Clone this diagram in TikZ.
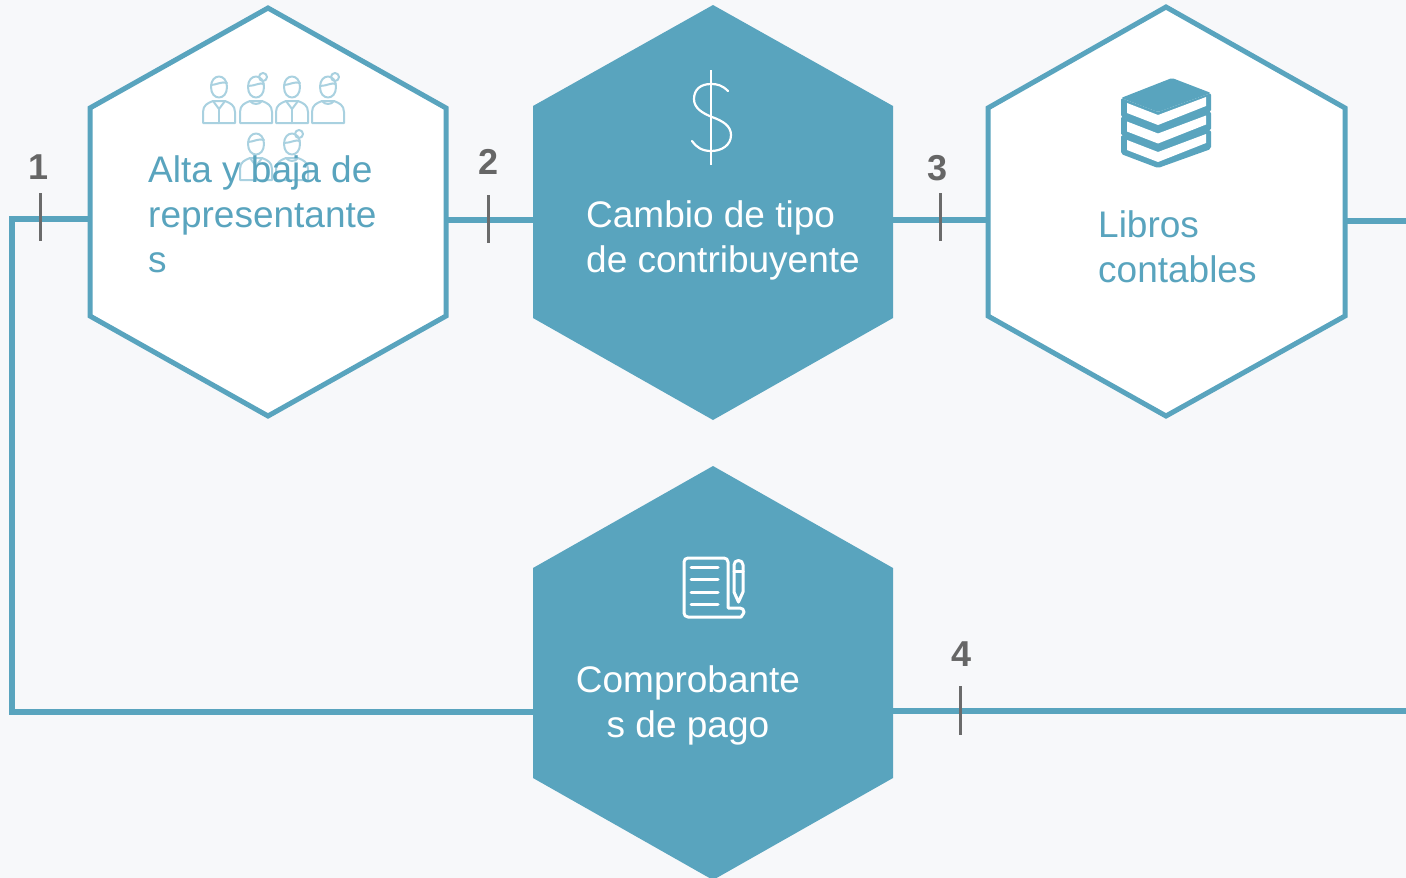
\documentclass[tikz,border=0pt]{standalone}
\usepackage{fontspec}
\setmainfont{Liberation Sans}
\definecolor{bg}{HTML}{F7F8FA}
\definecolor{hexblue}{HTML}{59A4BE}
\definecolor{tickgray}{HTML}{6B6B6B}
\definecolor{numgray}{HTML}{666666}
\definecolor{iconblue}{HTML}{A9D1E0}
\tikzset{
  hexline/.style={draw=hexblue, line width=5pt, fill=white, line join=miter},
  hexfill/.style={fill=hexblue},
  conn/.style={draw=hexblue, line width=5.5pt},
  tickmark/.style={draw=tickgray, line width=3pt},
  numlbl/.style={text=numgray, font=\fontsize{36}{40}\selectfont\bfseries, inner sep=0pt},
  lbl/.style={font=\fontsize{37}{45}\selectfont, inner sep=0pt, anchor=base west, align=left},
  person/.style={draw=iconblue, line width=2pt, line join=round, line cap=round},
  whiteline/.style={draw=white, line width=3pt, line join=round, line cap=round},
  pics/man/.style={code={
    \draw[person] (-8,11) .. controls (-8,-3) and (8,-3) .. (8,11) .. controls (8,25) and (-8,25) .. (-8,11) -- cycle;
    \draw[person] (-8,9) .. controls (-3,9) and (3,5) .. (8,7);
    \draw[person] (-16,47) -- (-16,36) .. controls (-16,29) and (-11,27) .. (-6,25) -- (6,25) .. controls (11,27) and (16,29) .. (16,36) -- (16,47) -- cycle;
    \draw[person] (-6,25) -- (0,33) -- (6,25);
    \draw[person] (0,33) -- (0,47);
  }},
  pics/woman/.style={code={
    \draw[person] (-8,11) .. controls (-8,-3) and (8,-3) .. (8,11) .. controls (8,25) and (-8,25) .. (-8,11) -- cycle;
    \draw[person] (-8,10) .. controls (-1,10) and (4,6) .. (8,8);
    \draw[person] (7,1) circle[radius=4pt];
    \draw[person] (-16,47) -- (-16,36) .. controls (-16,29) and (-11,27) .. (-6,25) -- (6,25) .. controls (11,27) and (16,29) .. (16,36) -- (16,47) -- cycle;
    \draw[person] (-6,25) .. controls (-3,29) and (3,29) .. (6,25);
  }},
}
\begin{document}
\begin{tikzpicture}[x=1pt, y=-1pt]
\fill[bg] (0,0) rectangle (1406,878);
\useasboundingbox (0,0) rectangle (1406,878);
% connection points
\coordinate (h1W) at (90,219);
\coordinate (h1E) at (446,220);
\coordinate (h2W) at (533,220);
\coordinate (h2E) at (893,220);
\coordinate (h3W) at (988,220);
\coordinate (h3E) at (1345,221);
\coordinate (endA) at (1406,221);
\coordinate (h4W) at (533,712);
\coordinate (h4E) at (893,711);
\coordinate (endB) at (1406,711);
\coordinate (loop) at (12,500);
% connectors
\draw[conn] (h1W) -| (loop) |- (h4W);
\draw[conn] (h1E) -- (h2W);
\draw[conn] (h2E) -- (h3W);
\draw[conn] (h3E) -- (endA);
\draw[conn] (h4E) -- (endB);
% hexagons
\path[hexline] (268,8) -- (446,108) -- (446,316) -- (268,416) -- (90,316) -- (90,108) -- cycle;
\path[hexfill] (713,5) -- (893,106) -- (893,318) -- (713,420) -- (533,318) -- (533,106) -- cycle;
\path[hexline] (1166,7) -- (1345,108) -- (1345,316) -- (1166,416) -- (988,316) -- (988,108) -- cycle;
\path[hexfill] (713,466) -- (893,568) -- (893,778) -- (713,880) -- (533,778) -- (533,568) -- cycle;
% people icon
\pic at (219,76) {man};
\pic at (256,76) {woman};
\pic at (292,76) {man};
\pic at (328,76) {woman};
\pic at (256,133) {man};
\pic at (292,133) {woman};
% dollar icon
\draw[draw=white, line width=2.2pt] (711,70) -- (711,165);
\draw[draw=white, line width=2.2pt, line cap=round] (728,91) .. controls (722,85) and (717,84) .. (711,84) .. controls (700,84) and (694,90) .. (694,99) .. controls (694,108) and (702,113) .. (712,117) .. controls (723,121) and (731,126) .. (731,135) .. controls (731,145) and (722,151) .. (711,151) .. controls (702,151) and (696,147) .. (692,141);
% books icon
\foreach \o in {37,18.5,0}{
  \fill[hexblue, rounded corners=2pt] (1121,98+\o) -- (1158,112+\o) -- (1211,93+\o) -- (1211,112+\o) -- (1158,131+\o) -- (1121,117+\o) -- cycle;
  \fill[white] (1127,103+\o) -- (1158,115+\o) -- (1206,97+\o) -- (1206,106+\o) -- (1158,125+\o) -- (1127,113+\o) -- cycle;
}
\fill[hexblue, rounded corners=2pt] (1121,98) -- (1172,78) -- (1211,93) -- (1158,112) -- cycle;
% document icon
\draw[whiteline, rounded corners=4pt] (728,608) -- (728,558) -- (684,558) -- (684,617) -- (737,617) .. controls (741,617) and (744,613) .. (744,608) -- (728,608);
\foreach \yy in {567,579,592,604}{ \draw[whiteline] (691,\yy) -- (718,\yy); }
\draw[whiteline] (734,592) -- (734,565) .. controls (734,559) and (743,559) .. (743,565) -- (743,592) -- (738.5,602) -- cycle;
\draw[whiteline] (734,571) -- (743,571);
% labels (base anchor = baseline of the last line)
\node[lbl, text=hexblue] (t1) at (148,272) {Alta y baja de\\representante\\s};
\node[lbl, text=white] (t2) at (586,272) {Cambio de tipo\\de contribuyente};
\node[lbl, text=hexblue] (t3) at (1098,282) {Libros\\contables};
\node[lbl, text=white, anchor=base, align=center] (t4) at (688,737) {Comprobante\\s de pago};
% ticks and numbers
\draw[tickmark] (40,193) -- (40,241);
\draw[tickmark] (488,195) -- (488,243);
\draw[tickmark] (940,193) -- (940,241);
\draw[tickmark] (960,686) -- (960,735);
\node[numlbl] (n1) at (39,167) {1};
\node[numlbl] (n2) at (489,162) {2};
\node[numlbl] (n3) at (938,168) {3};
\node[numlbl] (n4) at (961,654) {4};
\end{tikzpicture}
\end{document}
